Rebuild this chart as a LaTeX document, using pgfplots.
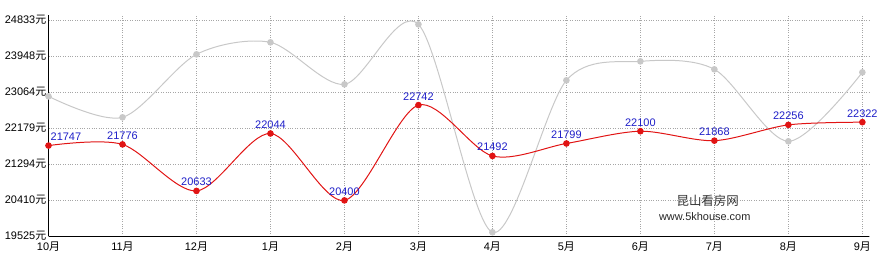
\documentclass[border=0pt]{standalone}
\usepackage{pgfplots}
\pgfplotsset{compat=1.18}
\usepackage{fontspec}
\setmainfont{Liberation Sans}
\newfontfamily\cjk{Noto Sans CJK SC}
\definecolor{redl}{RGB}{225,20,20}
\definecolor{grayl}{RGB}{200,200,200}
\definecolor{lblue}{RGB}{30,30,200}
\begin{document}
\begin{tikzpicture}
\useasboundingbox (0,0) rectangle (892bp,270bp);
\begin{axis}[
 at={(48.5bp,34bp)}, anchor=south west,
 scale only axis, width=820.5bp, height=221bp,
 xmin=0, xmax=11.09, ymin=19525, ymax=24956,
 scaled y ticks=false,
 axis x line=bottom, axis y line=left,
 axis line style={-, black, line width=1pt},
 xtick={0,...,11},
 xticklabels={10{\cjk 月},11{\cjk 月},12{\cjk 月},1{\cjk 月},2{\cjk 月},3{\cjk 月},4{\cjk 月},5{\cjk 月},6{\cjk 月},7{\cjk 月},8{\cjk 月},9{\cjk 月}},
 ytick={19525,20410,21294,22179,23064,23948,24833},
 yticklabels={19525{\cjk 元},20410{\cjk 元},21294{\cjk 元},22179{\cjk 元},23064{\cjk 元},23948{\cjk 元},24833{\cjk 元}},
 grid=major, major grid style={dotted, gray!70, line width=0.6pt},
 major tick length=0pt,
 tick label style={font=\fontsize{11}{13}\selectfont},
 yticklabel style={inner sep=2pt},
 xticklabel style={yshift=-2pt},
 clip=false,
]
\addplot[grayl, line width=1pt, smooth, mark=*, mark size=2.8pt, mark options={fill=grayl, draw=grayl}]
 coordinates {(0,22957) (1,22441) (2,23989) (3,24284) (4,23252) (5,24726) (6,19616) (7,23350) (8,23817) (9,23621) (10,21852) (11,23547)};
\addplot[redl, line width=1pt, smooth, mark=*, mark size=2.8pt, mark options={fill=redl, draw=redl},
 point meta=explicit symbolic,
 nodes near coords,
 every node near coord/.append style={font=\fontsize{11}{13}\selectfont, text=lblue, anchor=south, inner sep=2pt, yshift=2.5pt}]
 coordinates {(0,21747)[] (1,21776)[21776] (2,20633)[20633] (3,22044)[22044] (4,20400)[20400] (5,22742)[22742] (6,21492)[21492] (7,21799)[21799] (8,22100)[22100] (9,21868)[21868] (10,22256)[22256] (11,22322)[22322]};
\addplot[draw=none, mark=none, point meta=explicit symbolic, nodes near coords,
 every node near coord/.append style={font=\fontsize{11}{13}\selectfont, text=lblue, anchor=south west, inner sep=2pt, yshift=2.5pt}]
 coordinates {(0,21747)[21747]};
\node[font=\cjk\fontsize{12.5}{15}\selectfont, text=black!80] at (axis cs:8.91,20385) {昆山看房网};
\node[font=\fontsize{11}{13}\selectfont, text=black!85] at (axis cs:8.87,19990) {www.5khouse.com};
\end{axis}
\end{tikzpicture}
\end{document}
